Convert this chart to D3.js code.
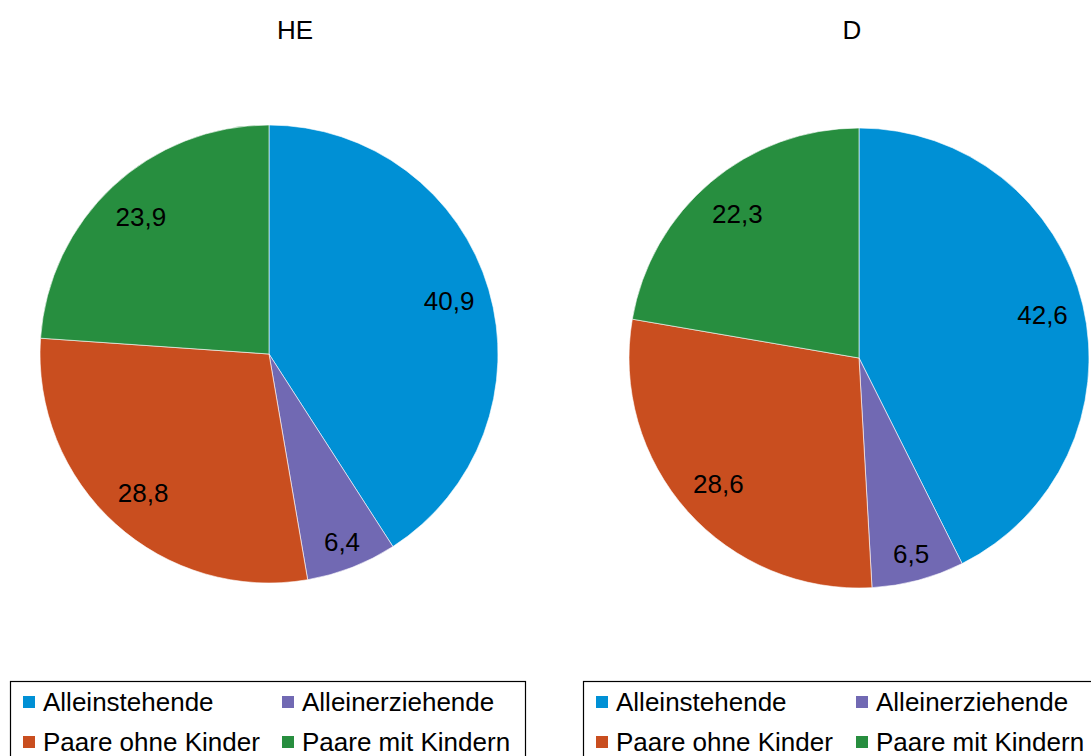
<!DOCTYPE html>
<html>
<head>
<meta charset="utf-8">
<script src="https://cdn.jsdelivr.net/npm/d3@7"></script>
<style>
  html, body { margin: 0; padding: 0; background: #fff; }
  svg { display: block; font-family: "Liberation Sans", Arial, sans-serif; }
</style>
</head>
<body>
<svg id="chart" width="1091" height="756"></svg>
<script>
// Household types (share in %), Hessen vs. Germany
const categories = ["Alleinstehende", "Alleinerziehende", "Paare ohne Kinder", "Paare mit Kindern"];
const colors = ["#0090d5", "#7169b3", "#c94e1f", "#278e3f"];
const valuesHE = [40.9, 6.4, 28.8, 23.9];
const valuesD = [42.6, 6.5, 28.6, 22.3];
const titles = ["HE", "D"];

const svg = d3.select("#chart");
const color = d3.scaleOrdinal().domain(categories).range(colors);
const fmt = v => d3.format(".1f")(v).replace(".", ",");
const FONT = 26;

const panels = [
  { title: titles[0], values: valuesHE, cx: 269, cy: 354, r: 229, titleX: 295,
    legend: { x: 10, y: 681, w: 515, col2: 259 } },
  { title: titles[1], values: valuesD, cx: 859, cy: 358, r: 230, titleX: 852,
    legend: { x: 583, y: 681, w: 520, col2: 260 } }
];

const pie = d3.pie().sort(null).value(d => d.value);

panels.forEach(p => {
  const data = categories.map((c, i) => ({ cat: c, value: p.values[i] }));
  const arcs = pie(data);
  const arc = d3.arc().innerRadius(0).outerRadius(p.r);
  // narrow slices get their label pushed a bit further out
  const labelPos = d => {
    const k = d.data.value < 10 ? 0.88 : 0.82;
    return d3.arc().innerRadius(p.r * k).outerRadius(p.r * k).centroid(d);
  };

  svg.append("text")
    .attr("x", p.titleX).attr("y", 39)
    .attr("text-anchor", "middle")
    .attr("font-size", FONT).attr("fill", "#000")
    .text(p.title);

  const g = svg.append("g").attr("transform", `translate(${p.cx},${p.cy})`);
  g.selectAll("path").data(arcs).enter().append("path")
    .attr("d", arc)
    .attr("fill", d => color(d.data.cat))
    .attr("stroke", "#fff").attr("stroke-width", 0.6);

  g.selectAll("text").data(arcs).enter().append("text")
    .attr("transform", d => `translate(${labelPos(d)})`)
    .attr("text-anchor", "middle")
    .attr("dy", "0.35em")
    .attr("font-size", FONT).attr("fill", "#000")
    .text(d => fmt(d.data.value));

  // legend box
  const L = p.legend;
  const lg = svg.append("g").attr("transform", `translate(${L.x},${L.y})`);
  lg.append("rect")
    .attr("x", 0.5).attr("y", 0.5)
    .attr("width", L.w).attr("height", 100)
    .attr("fill", "#fff").attr("stroke", "#000").attr("stroke-width", 1.2);

  categories.forEach((c, i) => {
    const col = i % 2, row = Math.floor(i / 2);
    const x = 13 + col * L.col2;
    const y = 21 + row * 40;
    lg.append("rect")
      .attr("x", x).attr("y", y - 6)
      .attr("width", 12).attr("height", 12)
      .attr("fill", color(c));
    lg.append("text")
      .attr("x", x + 20).attr("y", y)
      .attr("dy", "0.35em")
      .attr("font-size", FONT).attr("fill", "#000")
      .text(c);
  });
});
</script>
</body>
</html>
